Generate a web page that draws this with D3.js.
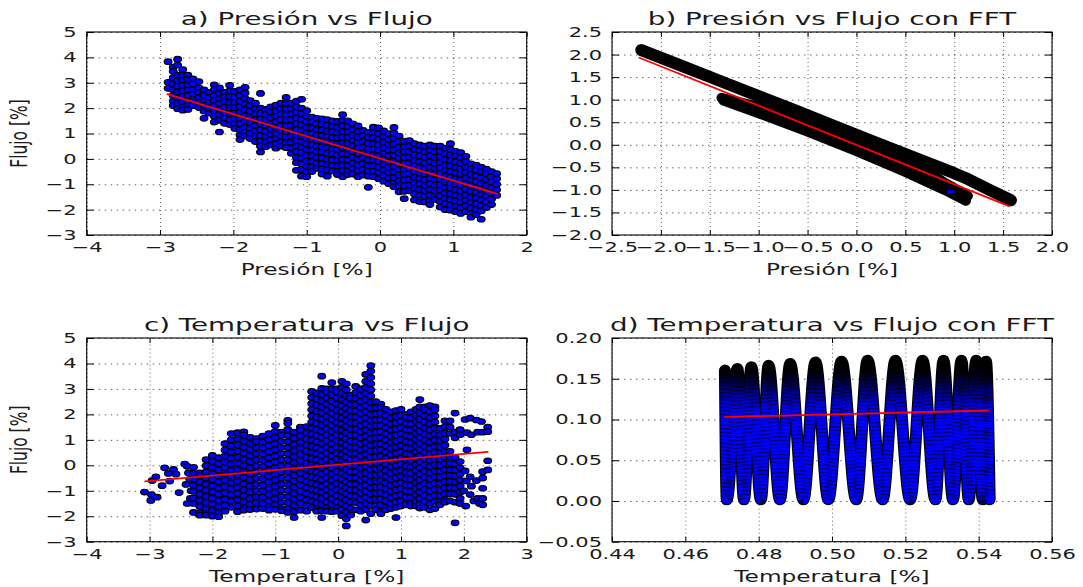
<!DOCTYPE html>
<html lang="es">
<head>
<meta charset="UTF-8">
<title>Presión / Temperatura vs Flujo</title>
<script src="https://cdn.jsdelivr.net/npm/d3@7"></script>
<style>
body { margin: 0; background: #fff; }
text { font-family: "DejaVu Sans", sans-serif; fill: #1a1a1a; }
.gx line { stroke: #000; stroke-width: 0.6; stroke-dasharray: 1,3; }
.gy line { stroke: #000; stroke-width: 0.6; stroke-dasharray: 1.5,4.5; }
.gx path, .gy path, .ax path { display: none; }
.ax line { stroke: #000; stroke-width: 1; }
</style>
</head>
<body>
<div id="chart"></div>
<script>
// a) Presión vs Flujo : columnas [presión, [flujo...]]
var presionCols = [
 [-2.89, [3.83, 3.02, 2.78]],
 [-2.82, [3.62, 3.45, 3.2, 2.95, 2.72, 2.5, 2.28, 2.1]],
 [-2.76, [3.93, 3.7, 3.3, 3.08, 2.86, 2.64, 2.42, 2.2, 1.98]],
 [-2.69, [3.52, 3.3, 3.1, 2.9, 2.68, 2.46, 2.25, 2.05, 1.92]],
 [-2.62, [3.3, 3.12, 2.92, 2.7, 2.5, 2.28, 2.08, 1.95]],
 [-2.55, [3.15, 2.95, 2.72, 2.55, 2.3, 2.1]],
 [-2.47, [3.05, 2.8, 2.62, 2.42, 2.22, 2.02]],
 [-2.4, [2.72, 2.52, 2.3, 2.1, 1.88, 1.6]],
 [-2.33, [2.62, 2.42, 2.22, 2.0, 1.8]],
 [-2.26, [2.92, 2.72, 2.5, 2.3, 2.1, 1.88, 1.68, 1.45]],
 [-2.19, [2.8, 2.6, 2.38, 2.18, 1.96, 1.75, 1.52, 1.06]],
 [-2.12, [2.62, 2.45, 2.25, 2.03, 1.82, 1.6, 1.4]],
 [-2.05, [2.9, 2.68, 2.45, 2.22, 2.0, 1.78, 1.55, 1.35]],
 [-1.98, [2.66, 2.44, 2.22, 2.0, 1.8, 1.58, 1.36, 1.2]],
 [-1.91, [2.72, 2.5, 2.28, 2.05, 1.83, 1.6, 1.38, 1.15, 0.95, 0.76]],
 [-1.84, [2.82, 2.6, 2.38, 2.15, 1.93, 1.7, 1.48, 1.25, 1.05, 0.9]],
 [-1.77, [2.3, 2.1, 1.88, 1.65, 1.43, 1.2, 1.0, 0.8]],
 [-1.7, [2.2, 1.98, 1.76, 1.55, 1.32, 1.1, 0.9, 0.68]],
 [-1.63, [2.58, 2.0, 1.8, 1.58, 1.36, 1.15, 0.92, 0.7, 0.5, 0.27]],
 [-1.56, [1.95, 1.75, 1.52, 1.3, 1.1, 0.88, 0.66, 0.48]],
 [-1.49, [2.05, 1.85, 1.62, 1.4, 1.18, 0.96, 0.75, 0.55]],
 [-1.42, [2.12, 1.9, 1.68, 1.46, 1.24, 1.02, 0.8, 0.6, 0.42]],
 [-1.35, [2.2, 1.98, 1.76, 1.54, 1.32, 1.1, 0.88, 0.66, 0.5]],
 [-1.28, [2.42, 2.18, 1.96, 1.75, 1.52, 1.3, 1.08, 0.86, 0.64, 0.44]],
 [-1.21, [2.2, 1.98, 1.76, 1.54, 1.32, 1.1, 0.88, 0.66, 0.44, 0.22]],
 [-1.14, [2.28, 2.05, 1.83, 1.6, 1.38, 1.16, 0.94, 0.72, 0.5, 0.28, 0.05, -0.15, -0.45]],
 [-1.07, [2.35, 2.0, 1.78, 1.56, 1.34, 1.12, 0.9, 0.68, 0.46, 0.24, 0.02, -0.2, -0.42, -0.68]],
 [-1.0, [1.9, 1.68, 1.46, 1.24, 1.02, 0.8, 0.58, 0.36, 0.14, -0.08, -0.3, -0.52, -0.7]],
 [-0.93, [1.65, 1.45, 1.22, 1.0, 0.78, 0.56, 0.34, 0.12, -0.1, -0.32, -0.5]],
 [-0.86, [1.6, 1.38, 1.16, 0.94, 0.72, 0.5, 0.28, 0.06, -0.16, -0.38]],
 [-0.79, [1.58, 1.36, 1.14, 0.92, 0.7, 0.48, 0.26, 0.04, -0.18, -0.4, -0.6]],
 [-0.72, [1.55, 1.33, 1.1, 0.88, 0.66, 0.44, 0.22, 0.0, -0.22, -0.44, -0.68]],
 [-0.65, [1.5, 1.28, 1.06, 0.84, 0.62, 0.4, 0.18, -0.04, -0.26, -0.48]],
 [-0.58, [1.48, 1.26, 1.04, 0.82, 0.6, 0.38, 0.16, -0.06, -0.28, -0.5, -0.62]],
 [-0.51, [1.74, 1.52, 1.3, 1.08, 0.86, 0.64, 0.42, 0.2, -0.02, -0.24, -0.46, -0.7]],
 [-0.44, [1.5, 1.28, 1.06, 0.84, 0.62, 0.4, 0.18, -0.04, -0.26, -0.48, -0.62]],
 [-0.37, [1.38, 1.16, 0.94, 0.72, 0.5, 0.28, 0.06, -0.16, -0.38, -0.6]],
 [-0.3, [1.3, 1.08, 0.86, 0.64, 0.42, 0.2, -0.02, -0.24, -0.46, -0.7]],
 [-0.23, [1.12, 0.9, 0.68, 0.46, 0.24, 0.02, -0.2, -0.42, -0.64]],
 [-0.16, [1.05, 0.84, 0.62, 0.4, 0.18, -0.04, -0.26, -0.48, -0.68, -1.12]],
 [-0.09, [1.25, 1.04, 0.82, 0.6, 0.38, 0.16, -0.06, -0.28, -0.5, -0.7]],
 [-0.02, [1.22, 1.0, 0.78, 0.56, 0.34, 0.12, -0.1, -0.32, -0.54, -0.78]],
 [0.05, [1.1, 0.88, 0.66, 0.44, 0.22, 0.0, -0.22, -0.44, -0.66, -0.88]],
 [0.12, [1.0, 0.78, 0.56, 0.34, 0.12, -0.1, -0.32, -0.54, -0.76, -0.98]],
 [0.19, [1.24, 1.02, 0.8, 0.58, 0.36, 0.14, -0.08, -0.3, -0.52, -0.74, -0.96, -1.1]],
 [0.26, [0.9, 0.68, 0.46, 0.24, 0.02, -0.2, -0.42, -0.64, -0.86, -1.08, -1.3]],
 [0.33, [0.7, 0.48, 0.26, 0.04, -0.18, -0.4, -0.62, -0.84, -1.06, -1.28, -1.57]],
 [0.4, [0.72, 0.5, 0.28, 0.06, -0.16, -0.38, -0.6, -0.82, -1.04, -1.26]],
 [0.47, [0.6, 0.38, 0.16, -0.06, -0.28, -0.5, -0.72, -0.94, -1.16, -1.38, -1.62]],
 [0.54, [0.55, 0.33, 0.11, -0.11, -0.33, -0.55, -0.77, -0.99, -1.21, -1.43, -1.68]],
 [0.61, [0.5, 0.28, 0.06, -0.16, -0.38, -0.6, -0.82, -1.04, -1.26, -1.48, -1.7]],
 [0.68, [0.55, 0.33, 0.11, -0.11, -0.33, -0.55, -0.77, -0.99, -1.21, -1.43, -1.65, -1.8]],
 [0.75, [0.5, 0.28, 0.06, -0.16, -0.38, -0.6, -0.82, -1.04, -1.26, -1.48, -1.6]],
 [0.82, [0.5, 0.3, 0.08, -0.14, -0.36, -0.58, -0.8, -1.02, -1.24, -1.46, -1.68, -1.9]],
 [0.89, [0.42, 0.2, -0.02, -0.24, -0.46, -0.68, -0.9, -1.12, -1.34, -1.56, -1.78, -2.0]],
 [0.96, [0.6, 0.38, 0.16, -0.06, -0.28, -0.5, -0.72, -0.94, -1.16, -1.38, -1.6, -1.82, -2.02]],
 [1.03, [0.3, 0.1, -0.12, -0.34, -0.56, -0.78, -1.0, -1.22, -1.44, -1.66, -1.88, -2.08]],
 [1.1, [0.25, 0.05, -0.17, -0.39, -0.61, -0.83, -1.05, -1.27, -1.49, -1.71, -1.93, -2.15]],
 [1.17, [0.1, -0.1, -0.32, -0.54, -0.76, -0.98, -1.2, -1.42, -1.64, -1.86, -2.08]],
 [1.24, [-0.2, -0.4, -0.62, -0.84, -1.06, -1.28, -1.5, -1.72, -1.94, -2.16, -2.3]],
 [1.31, [-0.25, -0.45, -0.67, -0.89, -1.11, -1.33, -1.55, -1.77, -1.99, -2.2]],
 [1.38, [-0.32, -0.52, -0.74, -0.96, -1.18, -1.4, -1.62, -1.84, -2.05, -2.38]],
 [1.45, [-0.4, -0.6, -0.82, -1.04, -1.26, -1.48, -1.7, -1.92]],
 [1.52, [-0.5, -0.7, -0.92, -1.14, -1.36, -1.58, -1.8]],
 [1.59, [-0.58, -0.78, -1.0, -1.22, -1.44]]
];

// b) Presión vs Flujo con FFT : trayectorias (presión, flujo)
var fftBandaSup = [[-2.2, 2.1], [-1.8, 1.76], [-1.4, 1.42], [-1.0, 1.08], [-0.6, 0.74], [-0.2, 0.39], [0.2, 0.05], [0.6, -0.29], [1.0, -0.63], [1.14, -0.76], [1.35, -0.99], [1.58, -1.23]];
var fftBandaInf1 = [[-1.38, 1.04], [-1.0, 0.84], [-0.5, 0.49], [0.0, 0.08], [0.5, -0.37], [0.75, -0.62], [0.9, -0.84], [1.14, -1.13]];
var fftBandaInf2 = [[-1.36, 0.98], [-1.0, 0.7], [-0.5, 0.29], [0.0, -0.14], [0.5, -0.6], [0.9, -1.0], [1.12, -1.24]];
var fftPuntoB = [[0.96, -1.04]];

// c) Temperatura vs Flujo
var tempSueltosIzq = [[-3.08, -1.05], [-2.98, -1.38], [-2.97, -1.15], [-2.96, -0.6], [-2.9, -0.45], [-2.88, -1.25], [-2.8, -0.8], [-2.76, -0.1], [-2.7, -0.32], [-2.68, -0.62], [-2.62, -0.16], [-2.58, -0.35], [-2.53, -1.07], [-2.44, 0.05], [-2.4, -0.04], [-2.42, -0.75], [-2.4, -1.5], [-2.38, -0.3], [-2.36, -0.55], [-2.34, -1.0], [-2.35, -1.3]];
var tempCols = [
 [-2.3, [-0.08, -0.32, -0.55, -0.78, -1.02, -1.28, -1.5, -1.85]],
 [-2.2, [-0.3, -0.42, -0.66, -0.9, -1.14, -1.38, -1.62, -1.86, -1.96]],
 [-2.1, [0.22, -0.02, -0.26, -0.5, -0.74, -0.98, -1.22, -1.46, -1.7, -1.96]],
 [-2.0, [0.39, 0.15, -0.09, -0.33, -0.57, -0.81, -1.05, -1.29, -1.53, -1.77, -2.0]],
 [-1.9, [0.3, 0.06, -0.18, -0.42, -0.66, -0.9, -1.14, -1.38, -1.62, -1.86, -2.02]],
 [-1.8, [0.85, 0.6, 0.36, 0.12, -0.12, -0.36, -0.6, -0.84, -1.08, -1.32, -1.56, -1.8]],
 [-1.7, [1.25, 1.0, 0.76, 0.52, 0.28, 0.04, -0.2, -0.44, -0.68, -0.92, -1.16, -1.4, -1.65]],
 [-1.6, [1.28, 1.04, 0.8, 0.56, 0.32, 0.08, -0.16, -0.4, -0.64, -0.88, -1.12, -1.36, -1.6, -1.82]],
 [-1.5, [1.31, 1.19, 0.95, 0.71, 0.47, 0.23, -0.01, -0.25, -0.49, -0.73, -0.97, -1.21, -1.45, -1.69, -1.76]],
 [-1.4, [1.1, 0.86, 0.62, 0.38, 0.14, -0.1, -0.34, -0.58, -0.82, -1.06, -1.3, -1.54, -1.74]],
 [-1.3, [1.05, 0.93, 0.69, 0.45, 0.21, -0.03, -0.27, -0.51, -0.75, -0.99, -1.23, -1.47, -1.72]],
 [-1.2, [1.15, 0.91, 0.67, 0.43, 0.19, -0.05, -0.29, -0.53, -0.77, -1.01, -1.25, -1.49, -1.7]],
 [-1.1, [1.25, 1.01, 0.77, 0.53, 0.29, 0.05, -0.19, -0.43, -0.67, -0.91, -1.15, -1.39, -1.63, -1.76]],
 [-1.0, [1.57, 1.33, 1.09, 0.85, 0.61, 0.37, 0.13, -0.11, -0.35, -0.59, -0.83, -1.07, -1.31, -1.55, -1.73]],
 [-0.9, [1.3, 1.18, 0.94, 0.7, 0.46, 0.22, -0.02, -0.26, -0.5, -0.74, -0.98, -1.22, -1.46, -1.7, -1.78]],
 [-0.8, [1.77, 1.65, 1.41, 1.17, 0.93, 0.69, 0.45, 0.21, -0.03, -0.27, -0.51, -0.75, -0.99, -1.23, -1.47, -1.71, -1.85]],
 [-0.7, [1.3, 1.06, 0.82, 0.58, 0.34, 0.1, -0.14, -0.38, -0.62, -0.86, -1.1, -1.34, -1.58, -1.82, -2.05]],
 [-0.6, [1.5, 1.38, 1.14, 0.9, 0.66, 0.42, 0.18, -0.06, -0.3, -0.54, -0.78, -1.02, -1.26, -1.5, -1.76]],
 [-0.5, [1.52, 1.28, 1.04, 0.8, 0.56, 0.32, 0.08, -0.16, -0.4, -0.64, -0.88, -1.12, -1.36, -1.6, -1.8]],
 [-0.42, [2.9, 2.66, 2.42, 2.18, 1.94, 1.7, 1.46, 1.22, 0.98, 0.74, 0.5, 0.26, 0.02, -0.22, -0.46, -0.7, -0.94, -1.18, -1.42, -1.66]],
 [-0.34, [2.85, 2.61, 2.37, 2.13, 1.89, 1.65, 1.41, 1.17, 0.93, 0.69, 0.45, 0.21, -0.03, -0.27, -0.51, -0.75, -0.99, -1.23, -1.47, -1.71, -1.8]],
 [-0.26, [3.5, 3.02, 2.78, 2.54, 2.3, 2.06, 1.82, 1.58, 1.34, 1.1, 0.86, 0.62, 0.38, 0.14, -0.1, -0.34, -0.58, -0.82, -1.06, -1.3, -1.54, -1.78, -2.05]],
 [-0.18, [3.0, 2.88, 2.64, 2.4, 2.16, 1.92, 1.68, 1.44, 1.2, 0.96, 0.72, 0.48, 0.24, 0.0, -0.24, -0.48, -0.72, -0.96, -1.2, -1.44, -1.68, -1.8]],
 [-0.1, [3.25, 3.01, 2.77, 2.53, 2.29, 2.05, 1.81, 1.57, 1.33, 1.09, 0.85, 0.61, 0.37, 0.13, -0.11, -0.35, -0.59, -0.83, -1.07, -1.31, -1.55, -1.82]],
 [-0.02, [3.0, 2.88, 2.64, 2.4, 2.16, 1.92, 1.68, 1.44, 1.2, 0.96, 0.72, 0.48, 0.24, 0.0, -0.24, -0.48, -0.72, -0.96, -1.2, -1.44, -1.68, -1.8]],
 [0.06, [3.3, 3.06, 2.82, 2.58, 2.34, 2.1, 1.86, 1.62, 1.38, 1.14, 0.9, 0.66, 0.42, 0.18, -0.06, -0.3, -0.54, -0.78, -1.02, -1.26, -1.5, -1.74, -1.98]],
 [0.13, [3.2, 2.96, 2.72, 2.48, 2.24, 2.0, 1.76, 1.52, 1.28, 1.04, 0.8, 0.56, 0.32, 0.08, -0.16, -0.4, -0.64, -0.88, -1.12, -1.36, -1.6, -1.84, -2.1, -2.38]],
 [0.2, [2.75, 2.63, 2.39, 2.15, 1.91, 1.67, 1.43, 1.19, 0.95, 0.71, 0.47, 0.23, -0.01, -0.25, -0.49, -0.73, -0.97, -1.21, -1.45, -1.69, -1.95]],
 [0.28, [3.1, 2.86, 2.62, 2.38, 2.14, 1.9, 1.66, 1.42, 1.18, 0.94, 0.7, 0.46, 0.22, -0.02, -0.26, -0.5, -0.74, -0.98, -1.22, -1.46, -1.75]],
 [0.36, [3.0, 2.76, 2.52, 2.28, 2.04, 1.8, 1.56, 1.32, 1.08, 0.84, 0.6, 0.36, 0.12, -0.12, -0.36, -0.6, -0.84, -1.08, -1.32, -1.56, -1.8]],
 [0.44, [3.57, 3.3, 3.06, 2.82, 2.58, 2.34, 2.1, 1.86, 1.62, 1.38, 1.14, 0.9, 0.66, 0.42, 0.18, -0.06, -0.3, -0.54, -0.78, -1.02, -1.26, -1.5, -1.74, -2.15]],
 [0.52, [3.92, 3.7, 3.45, 3.2, 2.96, 2.72, 2.48, 2.24, 2.0, 1.76, 1.52, 1.28, 1.04, 0.8, 0.56, 0.32, 0.08, -0.16, -0.4, -0.64, -0.88, -1.12, -1.36, -1.6, -1.9]],
 [0.6, [2.5, 2.26, 2.02, 1.78, 1.54, 1.3, 1.06, 0.82, 0.58, 0.34, 0.1, -0.14, -0.38, -0.62, -0.86, -1.1, -1.34, -1.58, -1.75]],
 [0.68, [2.4, 2.28, 2.04, 1.8, 1.56, 1.32, 1.08, 0.84, 0.6, 0.36, 0.12, -0.12, -0.36, -0.6, -0.84, -1.08, -1.32, -1.56, -1.8, -1.9]],
 [0.76, [2.2, 1.96, 1.72, 1.48, 1.24, 1.0, 0.76, 0.52, 0.28, 0.04, -0.2, -0.44, -0.68, -0.92, -1.16, -1.4, -1.64, -1.75]],
 [0.84, [2.1, 1.86, 1.62, 1.38, 1.14, 0.9, 0.66, 0.42, 0.18, -0.06, -0.3, -0.54, -0.78, -1.02, -1.26, -1.5, -1.7]],
 [0.92, [2.15, 1.91, 1.67, 1.43, 1.19, 0.95, 0.71, 0.47, 0.23, -0.01, -0.25, -0.49, -0.73, -0.97, -1.21, -1.45, -1.65, -2.05]],
 [1.0, [2.2, 1.96, 1.72, 1.48, 1.24, 1.0, 0.76, 0.52, 0.28, 0.04, -0.2, -0.44, -0.68, -0.92, -1.16, -1.4, -1.6]],
 [1.08, [2.0, 1.88, 1.64, 1.4, 1.16, 0.92, 0.68, 0.44, 0.2, -0.04, -0.28, -0.52, -0.76, -1.0, -1.24, -1.48, -1.55]],
 [1.16, [2.1, 1.86, 1.62, 1.38, 1.14, 0.9, 0.66, 0.42, 0.18, -0.06, -0.3, -0.54, -0.78, -1.02, -1.26, -1.5, -1.6]],
 [1.24, [2.2, 1.96, 1.72, 1.48, 1.24, 1.0, 0.76, 0.52, 0.28, 0.04, -0.2, -0.44, -0.68, -0.92, -1.16, -1.4, -1.6]],
 [1.3, [2.58, 2.3, 2.06, 1.82, 1.58, 1.34, 1.1, 0.86, 0.62, 0.38, 0.14, -0.1, -0.34, -0.58, -0.82, -1.06, -1.3, -1.54, -1.68]],
 [1.38, [2.3, 2.18, 1.94, 1.7, 1.46, 1.22, 0.98, 0.74, 0.5, 0.26, 0.02, -0.22, -0.46, -0.7, -0.94, -1.18, -1.42, -1.65]],
 [1.46, [2.35, 2.11, 1.87, 1.63, 1.39, 1.15, 0.91, 0.67, 0.43, 0.19, -0.05, -0.29, -0.53, -0.77, -1.01, -1.25, -1.49, -1.75]],
 [1.54, [2.3, 2.18, 1.94, 1.7, 1.46, 1.22, 0.98, 0.74, 0.5, 0.26, 0.02, -0.22, -0.46, -0.7, -0.94, -1.18, -1.42, -1.7]],
 [1.62, [1.45, 1.21, 0.97, 0.73, 0.49, 0.25, 0.01, -0.23, -0.47, -0.71, -0.95, -1.19, -1.43, -1.55]],
 [1.7, [1.75, 1.51, 1.27, 1.03, 0.79, 0.55, 0.31, 0.07, -0.17, -0.41, -0.65, -0.89, -1.13, -1.37, -1.45]],
 [1.78, [1.75, 1.5, 1.25, 0.55, 0.31, 0.07, -0.17, -0.41, -0.65, -0.89, -1.13, -1.4]],
 [1.86, [2.05, 1.3, 1.08, 0.3, 0.06, -0.18, -0.42, -0.66, -0.9, -1.14, -1.45, -2.26]],
 [1.94, [1.4, 1.2, 0.15, -0.1, -0.34, -0.58, -0.82, -1.06, -1.3, -1.5]]
];
var tempSueltosDer = [[2.02, 1.8], [2.05, 1.28], [2.05, 0.61], [2.02, -0.22], [2.04, -0.62], [2.0, -1.0], [2.03, -1.6], [2.1, 1.85], [2.12, 1.2], [2.1, -0.45], [2.12, -0.82], [2.1, -1.15], [2.16, -1.4], [2.2, 1.78], [2.22, 1.3], [2.2, -0.6], [2.22, -1.3], [2.25, -1.5], [2.28, 1.72], [2.3, 1.3], [2.3, -0.25], [2.3, -0.5], [2.3, -0.9], [2.3, -1.3], [2.3, -1.55], [2.38, 1.5], [2.38, 1.32], [2.38, 0.18], [2.38, -0.18]];

// d) Temperatura vs Flujo con FFT : recorrido (temperatura, flujo)
var fftTempZigzag = [[0.4708, 0.160], [0.4713, 0.002], [0.4742, 0.162], [0.4760, 0.002], [0.4780, 0.164], [0.4806, 0.002], [0.4827, 0.166], [0.4858, 0.002], [0.4886, 0.168], [0.4922, 0.002], [0.4955, 0.170], [0.4990, 0.002], [0.5026, 0.171], [0.5066, 0.002], [0.5097, 0.172], [0.5138, 0.002], [0.5173, 0.172], [0.5213, 0.002], [0.5247, 0.172], [0.5282, 0.002], [0.5304, 0.172], [0.5330, 0.002], [0.5353, 0.172], [0.5373, 0.002], [0.5393, 0.172], [0.5411, 0.002], [0.5420, 0.171], [0.5430, 0.002]];

// rectas de ajuste
var ajusteA = [[-2.9, 2.55], [1.6, -1.38]];
var ajusteB = [[-2.22, 1.93], [1.56, -1.36]];
var ajusteC = [[-3.07, -0.63], [2.38, 0.53]];
var ajusteD = [[0.4708, 0.1031], [0.5427, 0.1110]];

// marcas de los ejes
var ticksXa = [-4, -3, -2, -1, 0, 1, 2];
var ticksYa = [-3, -2, -1, 0, 1, 2, 3, 4, 5];
var ticksXb = [-2.5, -2.0, -1.5, -1.0, -0.5, 0.0, 0.5, 1.0, 1.5, 2.0];
var ticksYb = [-2.0, -1.5, -1.0, -0.5, 0.0, 0.5, 1.0, 1.5, 2.0, 2.5];
var ticksXc = [-4, -3, -2, -1, 0, 1, 2, 3];
var ticksYc = [-3, -2, -1, 0, 1, 2, 3, 4, 5];
var ticksXd = [0.44, 0.46, 0.48, 0.50, 0.52, 0.54, 0.56];
var ticksYd = [-0.05, 0.00, 0.05, 0.10, 0.15, 0.20];

var SX = 1.5; // la figura original esta estirada a lo ancho

var svg = d3.select("#chart").append("svg")
	.attr("width", 1083)
	.attr("height", 587);
var defs = svg.append("defs");

function panel(o) {
	var x = d3.scaleLinear().domain([o.xt[0], o.xt[o.xt.length - 1]]).range([o.l, o.r]);
	var y = d3.scaleLinear().domain([o.yt[0], o.yt[o.yt.length - 1]]).range([o.b, o.t]);
	var g = svg.append("g");
	var w = o.r - o.l, h = o.b - o.t;

	// rejilla punteada
	g.append("g").attr("class", "gx").attr("transform", "translate(0," + o.b + ")")
		.call(d3.axisBottom(x).tickValues(o.xt).tickSize(-h).tickFormat(""));
	g.append("g").attr("class", "gy").attr("transform", "translate(" + o.l + ",0)")
		.call(d3.axisLeft(y).tickValues(o.yt).tickSize(-w).tickFormat(""));

	var marks = g.append("g");

	// ejes con marcas hacia dentro
	var ab = g.append("g").attr("class", "ax").attr("transform", "translate(0," + o.b + ")")
		.call(d3.axisBottom(x).tickValues(o.xt).tickFormat(o.fx).tickSizeInner(-5).tickSizeOuter(0).tickPadding(7));
	var al = g.append("g").attr("class", "ax").attr("transform", "translate(" + o.l + ",0)")
		.call(d3.axisLeft(y).tickValues(o.yt).tickFormat(o.fy).tickSizeInner(-7).tickSizeOuter(0).tickPadding(10));
	g.append("g").attr("class", "ax").attr("transform", "translate(0," + o.t + ")")
		.call(d3.axisTop(x).tickValues(o.xt).tickFormat("").tickSizeInner(-5).tickSizeOuter(0));
	g.append("g").attr("class", "ax").attr("transform", "translate(" + o.r + ",0)")
		.call(d3.axisRight(y).tickValues(o.yt).tickFormat("").tickSizeInner(-7).tickSizeOuter(0));
	[ab, al].forEach(function(a){ a.attr("font-size", 14).attr("font-family", null); });
	ab.selectAll(".tick text").attr("transform", "scale(" + SX + ",1)");
	al.selectAll(".tick text").attr("x", -10 / SX).attr("transform", "scale(" + SX + ",1)");

	g.append("rect").attr("x", o.l).attr("y", o.t).attr("width", w).attr("height", h)
		.attr("fill", "none").attr("stroke", "#000").attr("stroke-width", 1.1);

	var cx = (o.l + o.r) / 2, cy = (o.t + o.b) / 2;
	g.append("text").attr("text-anchor", "middle").attr("font-size", 18.5)
		.attr("transform", "translate(" + cx + "," + (o.t - 7) + ") scale(" + SX + ",1)")
		.text(o.title);
	g.append("text").attr("text-anchor", "middle").attr("font-size", 15.5)
		.attr("transform", "translate(" + cx + "," + (o.b + 40) + ") scale(" + SX + ",1)")
		.text(o.xl);
	if (o.yl) {
		g.append("text").attr("text-anchor", "middle").attr("font-size", 15.5)
			.attr("transform", "translate(27," + cy + ") scale(" + SX + ",1) rotate(-90)")
			.text(o.yl);
	}
	return {g: marks, x: x, y: y};
}

function puntos(p, datos) {
	p.g.append("g").selectAll("ellipse").data(datos).enter().append("ellipse")
		.attr("cx", function(d){ return p.x(d[0]); })
		.attr("cy", function(d){ return p.y(d[1]); })
		.attr("rx", 3.9).attr("ry", 2.8)
		.attr("fill", "#0000ff").attr("stroke", "#000").attr("stroke-width", 1.1);
}
function columnas(cols) {
	var out = [];
	cols.forEach(function(c){ c[1].forEach(function(v){ out.push([c[0], v]); }); });
	return out;
}
function linea(p, datos, color, ancho, curva) {
	var ln = d3.line().x(function(d){ return p.x(d[0]); }).y(function(d){ return p.y(d[1]); });
	if (curva) ln.curve(curva);
	return p.g.append("path").datum(datos).attr("d", ln).attr("fill", "none")
		.attr("stroke", color).attr("stroke-width", ancho)
		.attr("stroke-linecap", "round").attr("stroke-linejoin", "round");
}

var f0 = d3.format("d"), f1 = d3.format(".1f"), f2 = d3.format(".2f");

// a)
var pa = panel({l: 86.7, r: 526.7, t: 32, b: 235, xt: ticksXa, yt: ticksYa, fx: f0, fy: f0,
	title: "a) Presión vs Flujo", xl: "Presión [%]", yl: "Flujo [%]"});
puntos(pa, columnas(presionCols));
linea(pa, ajusteA, "#ff0000", 1.8);

// b)
var pb = panel({l: 612, r: 1052, t: 32, b: 235, xt: ticksXb, yt: ticksYb, fx: f1, fy: f1,
	title: "b) Presión vs Flujo con FFT", xl: "Presión [%]"});
linea(pb, fftBandaSup, "#000", 12);
linea(pb, fftBandaInf1, "#000", 10);
linea(pb, fftBandaInf2, "#000", 10);
puntos(pb, fftPuntoB);
linea(pb, ajusteB, "#ff0000", 1.8);

// c)
var pc = panel({l: 86.7, r: 526.7, t: 338, b: 541.7, xt: ticksXc, yt: ticksYc, fx: f0, fy: f0,
	title: "c) Temperatura vs Flujo", xl: "Temperatura [%]", yl: "Flujo [%]"});
puntos(pc, tempSueltosIzq.concat(columnas(tempCols), tempSueltosDer));
linea(pc, ajusteC, "#ff0000", 1.8);

// d)
var pd = panel({l: 612, r: 1052, t: 338, b: 541.7, xt: ticksXd, yt: ticksYd, fx: f2, fy: f2,
	title: "d) Temperatura vs Flujo con FFT", xl: "Temperatura [%]"});
var grad = defs.append("linearGradient").attr("id", "gradD")
	.attr("gradientUnits", "userSpaceOnUse")
	.attr("x1", 0).attr("x2", 0).attr("y1", pd.y(0.178)).attr("y2", pd.y(0.11));
grad.append("stop").attr("offset", 0).attr("stop-color", "#000");
grad.append("stop").attr("offset", 0.3).attr("stop-color", "#00000a");
grad.append("stop").attr("offset", 1).attr("stop-color", "#0000ff");
linea(pd, fftTempZigzag, "#000", 12, d3.curveMonotoneX);
linea(pd, fftTempZigzag, "url(#gradD)", 9.8, d3.curveMonotoneX);
linea(pd, fftTempZigzag, "#000", 9.8, d3.curveMonotoneX)
	.attr("stroke-dasharray", "0.8,2.8").attr("stroke-linecap", "butt").attr("opacity", 0.7);
linea(pd, ajusteD, "#ff0000", 1.8);
</script>
</body>
</html>
